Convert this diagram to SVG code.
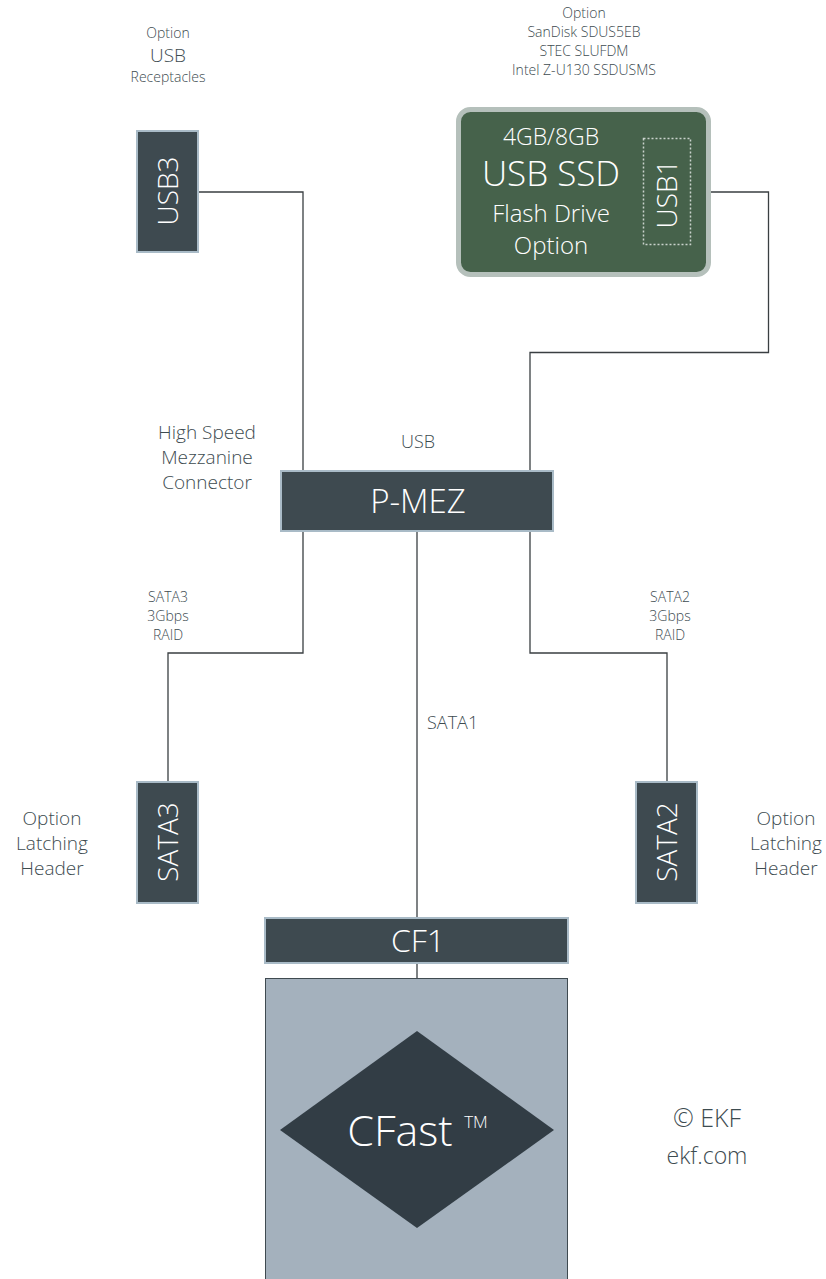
<svg xmlns="http://www.w3.org/2000/svg" width="826" height="1279" viewBox="0 0 826 1279">
  <style>
    text { font-family: "Open Sans", "Noto Sans", "Liberation Sans", sans-serif; font-weight: 300; fill: #3d4b50; text-anchor: middle; }
    text.start { text-anchor: start; }
    .conn { fill: none; stroke: #3a3f42; stroke-width: 1.3; }
    .box { fill: #3e4a50; stroke: #a9bbc7; stroke-width: 2; }
    .boxlabel { fill: #ffffff; }
    .small { font-size: 14px; }
    .mid { font-size: 19px; }
    .vert { font-size: 28px; }
  </style>

  <rect width="826" height="1279" fill="#ffffff"/>

  <!-- connectors -->
  <g id="connectors">
    <path class="conn" d="M198,192 H303 V471"/>
    <path class="conn" d="M711,192 H768.5 V352.5 H530 V471"/>
    <path class="conn" d="M303,531 V653 H168 V782"/>
    <path class="conn" d="M530,531 V653 H667 V782"/>
    <path class="conn" d="M417,531 V918"/>
    <path class="conn" d="M417,963 V978"/>
  </g>

  <!-- free labels -->
  <g id="labels">
    <text x="168" y="38" class="small">Option</text>
    <text x="168" y="62" font-size="19">USB</text>
    <text x="168" y="82" class="small">Receptacles</text>

    <text x="584" y="18" class="small">Option</text>
    <text x="584" y="37" class="small">SanDisk SDUS5EB</text>
    <text x="584" y="56" class="small">STEC SLUFDM</text>
    <text x="584" y="75" class="small">Intel Z-U130 SSDUSMS</text>

    <text x="207" y="439" class="mid">High Speed</text>
    <text x="207" y="464" class="mid">Mezzanine</text>
    <text x="207" y="489" class="mid">Connector</text>

    <text x="418" y="448" font-size="18">USB</text>

    <text x="168" y="602" class="small">SATA3</text>
    <text x="168" y="621" class="small">3Gbps</text>
    <text x="168" y="640" class="small">RAID</text>

    <text x="670" y="602" class="small">SATA2</text>
    <text x="670" y="621" class="small">3Gbps</text>
    <text x="670" y="640" class="small">RAID</text>

    <text x="427" y="729" font-size="18" class="start">SATA1</text>

    <text x="52" y="825" class="mid">Option</text>
    <text x="52" y="850" class="mid">Latching</text>
    <text x="52" y="875" class="mid">Header</text>

    <text x="786" y="825" class="mid">Option</text>
    <text x="786" y="850" class="mid">Latching</text>
    <text x="786" y="875" class="mid">Header</text>

    <text x="707" y="1127" font-size="25">© EKF</text>
    <text x="707" y="1164" font-size="23">ekf.com</text>
  </g>

  <!-- USB3 receptacle -->
  <g id="usb3">
    <rect class="box" x="137" y="131" width="61" height="121"/>
    <text class="boxlabel vert" transform="translate(178,191) rotate(-90)">USB3</text>
  </g>

  <!-- USB SSD flash drive option -->
  <g id="usb-ssd">
    <rect x="458.5" y="109.5" width="250" height="165" rx="12" ry="12" fill="#46624b" stroke="#b5c0bb" stroke-width="5"/>
    <rect x="643.5" y="138.5" width="47" height="106" fill="none" stroke="#c9d2cc" stroke-width="1.5" stroke-dasharray="2,2"/>
    <text class="boxlabel" x="551" y="145" font-size="23">4GB/8GB</text>
    <text class="boxlabel" x="551" y="186" font-size="35">USB SSD</text>
    <text class="boxlabel" x="551" y="222" font-size="24">Flash Drive</text>
    <text class="boxlabel" x="551" y="254" font-size="24">Option</text>
    <text class="boxlabel vert" transform="translate(677,194) rotate(-90)">USB1</text>
  </g>

  <!-- P-MEZ mezzanine connector -->
  <g id="p-mez">
    <rect class="box" x="281" y="471" width="272" height="60"/>
    <text class="boxlabel" x="418" y="513" font-size="33">P-MEZ</text>
  </g>

  <!-- SATA3 header -->
  <g id="sata3">
    <rect class="box" x="137" y="782" width="61" height="121"/>
    <text class="boxlabel vert" transform="translate(178,842) rotate(-90)">SATA3</text>
  </g>

  <!-- SATA2 header -->
  <g id="sata2">
    <rect class="box" x="636" y="782" width="61" height="121"/>
    <text class="boxlabel vert" transform="translate(677,842) rotate(-90)">SATA2</text>
  </g>

  <!-- CF1 socket -->
  <g id="cf1">
    <rect class="box" x="265" y="918" width="303" height="45"/>
    <text class="boxlabel" x="418" y="952" font-size="32">CF1</text>
  </g>

  <!-- CFast card -->
  <g id="cfast">
    <rect x="265.5" y="978.5" width="302" height="310" fill="#a4b1bd" stroke="#3f4a50" stroke-width="1"/>
    <polygon points="417,1031 554,1130 417,1228 280,1130" fill="#323d45"/>
    <text class="boxlabel" x="400" y="1146" font-size="43">CFast</text>
    <text class="boxlabel" x="476" y="1128" font-size="17">TM</text>
  </g>
</svg>
